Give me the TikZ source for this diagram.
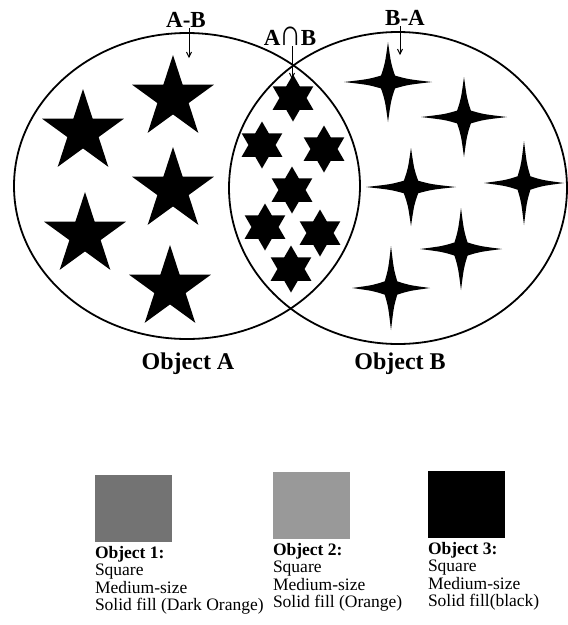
\documentclass[tikz,border=0pt]{standalone}
\usepackage{fontspec}
\usepackage{graphicx}
\setmainfont{Liberation Serif}
\usetikzlibrary{arrows.meta,positioning,shapes.geometric}

\begin{document}
\begin{tikzpicture}[x=1pt, y=-1pt,
  every node/.style={inner sep=0pt, outer sep=0pt},
  setring/.style={draw, ellipse, line width=1.8pt},
  fivestar/.style={star, star points=5, star point ratio=2.618, fill, minimum size=86pt},
  sixstar/.style={star, star points=6, star point ratio=1.732, fill, minimum size=47pt},
  toplabel/.style={font=\fontsize{23}{26}\selectfont\bfseries, anchor=base},
  objlabel/.style={font=\fontsize{24}{28}\selectfont\bfseries, anchor=base},
  swatch/.style={minimum width=77pt, minimum height=67pt, anchor=north west},
  keytext/.style={font=\fontsize{17.5}{17.5}\selectfont, align=left},
  pointer/.style={line width=0.9pt, -{Straight Barb[length=5pt,width=5pt]}},
  fourstar/.pic={\fill (0,1) .. controls (0.07,0.45) .. (0.16,0.16) .. controls (0.45,0.07) .. (1,0)
    .. controls (0.45,-0.07) .. (0.16,-0.16) .. controls (0.07,-0.45) .. (0,-1)
    .. controls (-0.07,-0.45) .. (-0.16,-0.16) .. controls (-0.45,-0.07) .. (-1,0)
    .. controls (-0.45,0.07) .. (-0.16,0.16) .. controls (-0.07,0.45) .. cycle;}]
  \useasboundingbox (0,0) rectangle (568,625);

  % the two sets
  \node[setring, minimum width=346pt, minimum height=306pt] (setA) at (187,186) {};
  \node[setring, minimum width=338pt, minimum height=312pt] (setB) at (398,188) {};
  \node[objlabel] (labA) at (188,369) {Object A};
  \node[objlabel] (labB) at (400,369) {Object B};

  % members
  \foreach \x/\y [count=\i] in {173/98, 83/132, 173/190, 85/235, 170/288}
    \node[fivestar] (a\i) at (\x,\y) {};
  \foreach \x/\y [count=\i] in {293/98, 262/145, 324/149, 292/190, 265/227, 320/233, 291/269}
    \node[sixstar] (m\i) at (\x,\y) {};
  \foreach \x/\y/\w/\h [count=\i] in {388/82/44/40, 464/117/43/40, 411/187/45/39,
      524/183/40/42, 461/249/41/41, 391/288/39/42}
    \pic[xscale=\w, yscale=\h] (b\i) at (\x,\y) {fourstar};

  % region labels
  \node[toplabel] (lAB) at (186,27) {A-B};
  \node[toplabel] (lAnB) at (290,45) {A\kern-1pt\scalebox{1.35}[1.6]{∩}\kern-1pt B};
  \node[toplabel] (lBA) at (405,25) {B-A};
  \coordinate (pAB) at (189,58);
  \coordinate (pAnB) at (292,79);
  \coordinate (pBA) at (400,55);
  \draw[pointer] ([yshift=-1pt]lAB.south -| pAB) -- (pAB);
  \draw[pointer] ([yshift=-1pt]lAnB.south -| pAnB) -- (pAnB);
  \draw[pointer] ([yshift=-1pt]lBA.south -| pBA) -- (pBA);

  % legend
  \node[swatch, fill=black!55] (sq1) at (95,475) {};
  \node[swatch, fill=black!40] (sq2) at (273,472) {};
  \node[swatch, fill=black] (sq3) at (428,471) {};
  \node[keytext, below right=4pt and 0pt of sq1.south west]
    (k1) {\textbf{Object 1:}\\Square\\Medium-size\\Solid fill (Dark Orange)};
  \node[keytext, below right=4pt and 0pt of sq2.south west]
    (k2) {\textbf{Object 2:}\\Square\\Medium-size\\Solid fill (Orange)};
  \node[keytext, below right=4pt and 0pt of sq3.south west]
    (k3) {\textbf{Object 3:}\\Square\\Medium-size\\Solid fill(black)};
\end{tikzpicture}
\end{document}
